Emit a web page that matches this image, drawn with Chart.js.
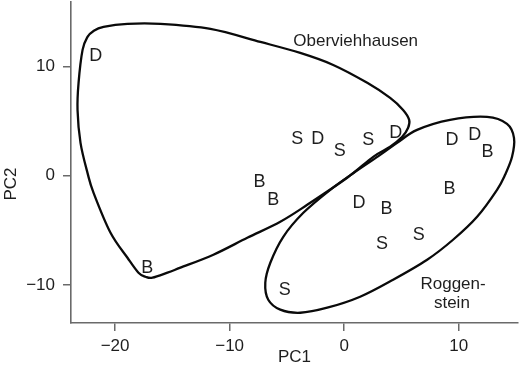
<!DOCTYPE html>
<html>
<head>
<meta charset="utf-8">
<script src="https://cdn.jsdelivr.net/npm/chart.js@4.4.1/dist/chart.umd.min.js"></script>
<style>
  html, body { margin: 0; padding: 0; background: #ffffff; }
  #wrap { width: 520px; height: 369px; }
</style>
</head>
<body>
<div id="wrap"><canvas id="c" width="520" height="369"></canvas></div>
<script>
// ---- Data ----
const xTicks = [-20, -10, 0, 10];
const xTickLabels = ['\u221220', '\u221210', '0', '10'];
const yTicks = [-10, 0, 10];
const yTickLabels = ['\u221210', '0', '10'];
const xRange = [-23.85, 15.17];
const yRange = [-13.49, 15.93];

const groupLetters = ['B', 'D', 'S'];
const bX = [-17.2, -7.4, -6.2, 12.5, 9.2, 3.7];
const bY = [-8.3, -0.4, -2.1, 2.3, -1.1, -2.9];
const dX = [-21.7, -2.3, 4.5, 9.4, 11.4, 1.3];
const dY = [11.1, 3.5, 4.1, 3.4, 3.9, -2.4];
const sX = [-4.1, -0.4, 2.1, 3.3, 6.5, -5.2];
const sY = [3.5, 2.4, 3.4, -6.1, -5.3, -10.3];

// Hull outlines (closed curves, data units)
const oberHullX = [-22.41, -21.88, -21.01, -18.92, -16.04, -11.68, -7.32, -3.84, -0.96, 2.01, 4.01, 5.14, 5.67, 5.58, 5.06, 4.01, 2.53, 0.26, -3.23, -5.58, -8.46, -11.42, -14.30, -15.43, -16.74, -17.35, -17.96, -18.92, -20.40, -21.88, -22.41, -23.02, -23.28, -23.19, -22.84];
const oberHullY = [12.73, 13.28, 13.64, 13.92, 13.92, 13.46, 12.27, 11.26, 10.16, 8.52, 7.14, 6.04, 5.13, 4.40, 3.57, 2.66, 1.74, -0.18, -2.66, -4.21, -5.68, -7.23, -8.42, -8.88, -9.34, -9.25, -8.88, -7.51, -5.22, -1.56, 0.27, 3.02, 6.04, 8.52, 11.54];
const roggHullX = [-1.22, 0.96, 3.14, 4.62, 6.36, 9.24, 12.47, 14.21, 14.82, 14.65, 14.04, 13.34, 11.60, 9.50, 7.24, 4.27, 1.39, -1.48, -3.84, -5.58, -6.63, -6.89, -6.45, -5.32, -3.57];
const roggHullY = [-1.28, 0.37, 1.92, 3.02, 4.21, 5.13, 5.40, 4.76, 3.48, 1.74, 0.09, -1.28, -3.75, -5.86, -7.69, -9.52, -11.08, -12.09, -12.55, -12.27, -11.36, -9.80, -7.97, -5.59, -3.39];

const groupLabelTexts = ['Oberviehhausen', 'Roggen-', 'stein'];
const groupLabelX = [1.0, 9.5, 9.4];
const groupLabelY = [12.45, -9.8, -11.54];

const xTitle = 'PC1';
const yTitle = 'PC2';

// ---- Styling ----
const FONT = '"Liberation Sans", Arial, Helvetica, sans-serif';
const AXIS_COLOR = '#6a6a6a';
const TEXT_COLOR = '#1e1e1e';

function pts(xs, ys) { return xs.map((x, i) => ({ x: x, y: ys[i] })); }

const letterPlugin = {
  id: 'letters',
  afterDatasetsDraw(chart) {
    const ctx = chart.ctx;
    ctx.save();
    ctx.fillStyle = TEXT_COLOR;
    ctx.font = '18px ' + FONT;
    ctx.textAlign = 'center';
    ctx.textBaseline = 'alphabetic';
    chart.data.datasets.forEach((ds, i) => {
      const meta = chart.getDatasetMeta(i);
      meta.data.forEach(el => {
        ctx.fillText(ds.label, el.x, el.y + 6.5);
      });
    });
    ctx.restore();
  }
};

const hullPlugin = {
  id: 'hulls',
  afterDatasetsDraw(chart) {
    const ctx = chart.ctx;
    const xs = chart.scales.x, ys = chart.scales.y;
    const drawClosed = (hx, hy) => {
      const p = hx.map((x, i) => [xs.getPixelForValue(x), ys.getPixelForValue(hy[i])]);
      const n = p.length;
      ctx.beginPath();
      ctx.moveTo(p[0][0], p[0][1]);
      for (let i = 0; i < n; i++) {
        const p0 = p[(i - 1 + n) % n], p1 = p[i], p2 = p[(i + 1) % n], p3 = p[(i + 2) % n];
        const c1x = p1[0] + (p2[0] - p0[0]) / 6, c1y = p1[1] + (p2[1] - p0[1]) / 6;
        const c2x = p2[0] - (p3[0] - p1[0]) / 6, c2y = p2[1] - (p3[1] - p1[1]) / 6;
        ctx.bezierCurveTo(c1x, c1y, c2x, c2y, p2[0], p2[1]);
      }
      ctx.closePath();
      ctx.stroke();
    };
    ctx.save();
    ctx.strokeStyle = '#0a0a0a';
    ctx.lineWidth = 2.3;
    ctx.lineJoin = 'round';
    drawClosed(oberHullX, oberHullY);
    drawClosed(roggHullX, roggHullY);
    // group labels
    ctx.fillStyle = TEXT_COLOR;
    ctx.font = '17px ' + FONT;
    ctx.textAlign = 'center';
    ctx.textBaseline = 'alphabetic';
    groupLabelTexts.forEach((t, i) => {
      ctx.fillText(t, xs.getPixelForValue(groupLabelX[i]), ys.getPixelForValue(groupLabelY[i]) + 6);
    });
    // y-axis title
    ctx.save();
    ctx.translate(9.5, 184);
    ctx.rotate(-Math.PI / 2);
    ctx.fillText(yTitle, 0, 6);
    ctx.restore();
    ctx.restore();
  }
};

new Chart(document.getElementById('c'), {
  type: 'scatter',
  data: {
    datasets: [
      { label: groupLetters[0], data: pts(bX, bY), pointRadius: 0, pointHoverRadius: 0 },
      { label: groupLetters[1], data: pts(dX, dY), pointRadius: 0, pointHoverRadius: 0 },
      { label: groupLetters[2], data: pts(sX, sY), pointRadius: 0, pointHoverRadius: 0 }
    ]
  },
  options: {
    responsive: false,
    devicePixelRatio: 1,
    animation: false,
    events: [],
    layout: { padding: { left: 0, top: 2, right: 2, bottom: 0 } },
    plugins: { legend: { display: false }, tooltip: { enabled: false } },
    scales: {
      x: {
        type: 'linear',
        min: xRange[0], max: xRange[1],
        afterBuildTicks: s => { s.ticks = xTicks.map(v => ({ value: v })); },
        afterFit: s => { s.height = 46; s.paddingLeft = 0; s.paddingRight = 0; },
        grid: { drawOnChartArea: false, drawTicks: true, tickLength: 8, color: AXIS_COLOR, lineWidth: 1.5 },
        border: { display: true, color: AXIS_COLOR, width: 1.6 },
        ticks: {
          color: TEXT_COLOR, padding: 5, maxRotation: 0,
          font: { family: FONT, size: 17 },
          callback: (v) => xTickLabels[xTicks.indexOf(v)]
        },
        title: { display: true, text: xTitle, color: TEXT_COLOR, font: { family: FONT, size: 17, lineHeight: 1.0 }, padding: { top: 0, bottom: 3 } }
      },
      y: {
        type: 'linear',
        min: yRange[0], max: yRange[1],
        afterBuildTicks: s => { s.ticks = yTicks.map(v => ({ value: v })); },
        afterFit: s => { s.width = 71; s.paddingTop = 0; s.paddingBottom = 0; },
        grid: { drawOnChartArea: false, drawTicks: true, tickLength: 8, color: AXIS_COLOR, lineWidth: 1.5 },
        border: { display: true, color: AXIS_COLOR, width: 1.6 },
        ticks: {
          color: TEXT_COLOR, padding: 8,
          font: { family: FONT, size: 17 },
          callback: (v) => yTickLabels[yTicks.indexOf(v)]
        }
      }
    }
  },
  plugins: [hullPlugin, letterPlugin]
});
</script>
</body>
</html>
